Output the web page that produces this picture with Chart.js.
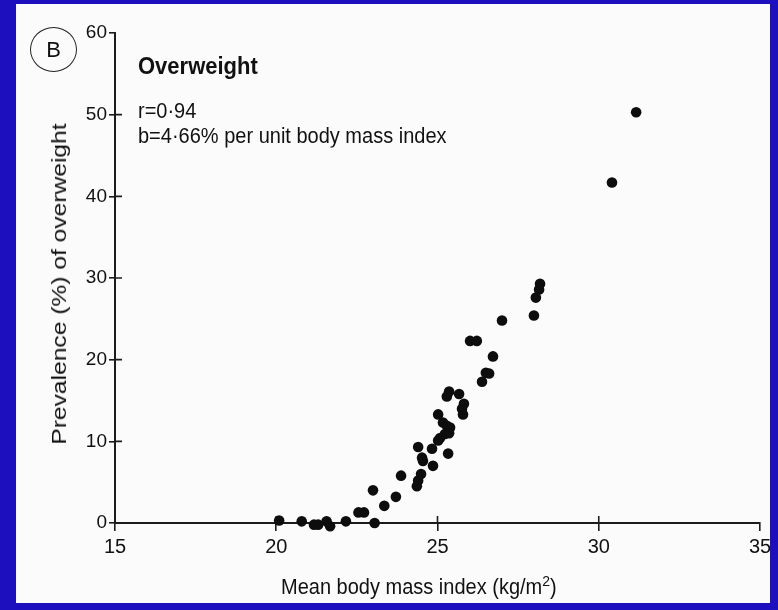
<!DOCTYPE html>
<html>
<head>
<meta charset="utf-8">
<script src="https://cdn.jsdelivr.net/npm/chart.js@4.4.1/dist/chart.umd.min.js"></script>
<style>
  html, body { margin: 0; padding: 0; }
  body { width: 778px; height: 610px; background: #1e0fbe; position: relative; overflow: hidden;
         font-family: 'Liberation Sans', Arial, Helvetica, sans-serif; color: #111; }
  #panel { position: absolute; left: 16px; top: 4px; width: 754px; height: 599px; background: #fbfbfb; }
  #mycanvas { position: absolute; left: 0; top: 0; }
  #edge { position: absolute; left: 770px; top: 0; width: 8px; height: 610px; background: #1e0fbe; }
  .txt { position: absolute; white-space: nowrap; }
  #badge { position: absolute; left: 30px; top: 27px; width: 45px; height: 43px; border: 1.5px solid #222;
           border-radius: 50%; font-size: 22px; line-height: 43px; text-align: center; }
</style>
</head>
<body>
<div id="panel"></div>
<canvas id="mycanvas" width="778" height="610"></canvas>
<div id="edge"></div>

<div id="badge">B</div>
<div class="txt" style="left:138px; top:56px; font-size:22px; line-height:22px; font-weight:bold; transform:scaleY(1.1); transform-origin:0 19px;">Overweight</div>
<div class="txt" style="left:138px; top:101px; font-size:20px; line-height:20px; transform:scaleY(1.08); transform-origin:0 17px;">r=0·94</div>
<div class="txt" style="left:138px; top:126px; font-size:20px; line-height:20px; transform:scaleY(1.08); transform-origin:0 17px;">b=4·66% per unit body mass index</div>
<div class="txt" style="left:59px; top:284px; font-size:20px; line-height:20px; transform:translate(-50%,-50%) rotate(-90deg) scaleX(1.23);">Prevalence (%) of overweight</div>
<div class="txt" style="left:281px; top:577px; font-size:20px; line-height:20px; transform:scaleY(1.1); transform-origin:0 17px;">Mean body mass index (kg/m<span style="font-size:14px; position:relative; top:-7px;">2</span>)</div>

<script>
// mean BMI of each population (x) and prevalence of overweight in % (y)
var bmi = [31.16, 30.41, 28.18, 28.15, 28.05, 27.99, 27.0, 26.01, 26.22, 26.72,
           26.5, 26.6, 26.38, 25.36, 25.29, 25.67, 25.82, 25.76, 25.79, 25.02,
           25.17, 25.29, 25.39, 25.36, 25.23, 25.08, 25.02, 24.83, 24.4, 24.52,
           24.55, 25.33, 24.86, 24.36, 24.4, 24.49, 23.87, 23.35, 23.71, 23.0,
           23.05, 22.55, 22.72, 22.16, 21.67, 21.56, 21.3, 21.17, 20.79, 20.09];
var prevalence = [50.3, 41.7, 29.3, 28.6, 27.6, 25.4, 24.8, 22.3, 22.3, 20.4,
                  18.4, 18.3, 17.3, 16.1, 15.5, 15.8, 14.6, 14.0, 13.3, 13.3,
                  12.3, 11.9, 11.7, 11.0, 10.9, 10.4, 10.1, 9.1, 9.3, 8.0,
                  7.6, 8.5, 7.0, 4.5, 5.2, 6.0, 5.8, 2.1, 3.2, 4.0,
                  0, 1.3, 1.3, 0.2, -0.4, 0.2, -0.2, -0.2, 0.2, 0.3];
var xTicks = [15, 20, 25, 30, 35];
var yTicks = [0, 10, 20, 30, 40, 50, 60];

var ink = "#1c1c1c";
var tickFont = "'Liberation Sans', Arial, Helvetica, sans-serif";

// tick marks cross the axis lines in the original, so draw the inner halves too
var innerTicks = {
    id: "innerTicks",
    beforeDatasetsDraw: function(chart){
        var ctx = chart.ctx, a = chart.chartArea;
        var xs = chart.scales.x, ys = chart.scales.y;
        ctx.save();
        ctx.strokeStyle = ink;
        ctx.lineWidth = 1.6;
        ctx.beginPath();
        yTicks.slice(1, -1).forEach(function(v){
            var py = ys.getPixelForValue(v);
            ctx.moveTo(a.left, py);
            ctx.lineTo(a.left + 7, py);
        });
        xTicks.slice(1, -1).forEach(function(v){
            var px = xs.getPixelForValue(v);
            ctx.moveTo(px, a.bottom);
            ctx.lineTo(px, a.bottom - 7);
        });
        ctx.stroke();
        ctx.restore();
    }
};

var points = [];
for (var i in bmi){
    points.push({x: bmi[i], y: prevalence[i]});
}

var ctx = document.getElementById("mycanvas");
var scatter = new Chart(ctx, {
    type: "scatter",
    data: {
        datasets: [{
            data: points,
            backgroundColor: "#0d0d0d",
            borderColor: "#0d0d0d",
            borderWidth: 0,
            pointRadius: 5.3,
            clip: false
        }]
    },
    options: {
        responsive: false,
        animation: false,
        events: [],
        layout: {padding: {left: 0, right: 18, top: 33, bottom: 0}},
        plugins: {legend: {display: false}, tooltip: {enabled: false}},
        scales: {
            x: {
                type: "linear",
                min: 15,
                max: 35,
                afterBuildTicks: function(s){ s.ticks = xTicks.map(function(v){ return {value: v}; }); },
                afterFit: function(s){ s.height = 87; },
                grid: {drawOnChartArea: false, drawTicks: true, tickLength: 8, color: ink, lineWidth: 1.6},
                border: {display: true, color: ink, width: 2},
                ticks: {color: "#111", font: {family: tickFont, size: 20}, padding: 4, maxRotation: 0, autoSkip: false}
            },
            y: {
                type: "linear",
                min: 0,
                max: 60,
                afterBuildTicks: function(s){ s.ticks = yTicks.map(function(v){ return {value: v}; }); },
                afterFit: function(s){ s.width = 115; },
                grid: {drawOnChartArea: false, drawTicks: true, tickLength: 6, color: ink, lineWidth: 1.6},
                border: {display: true, color: ink, width: 2},
                ticks: {color: "#111", font: {family: tickFont, size: 19}, padding: 2, autoSkip: false}
            }
        }
    },
    plugins: [innerTicks]
});
</script>
</body>
</html>
